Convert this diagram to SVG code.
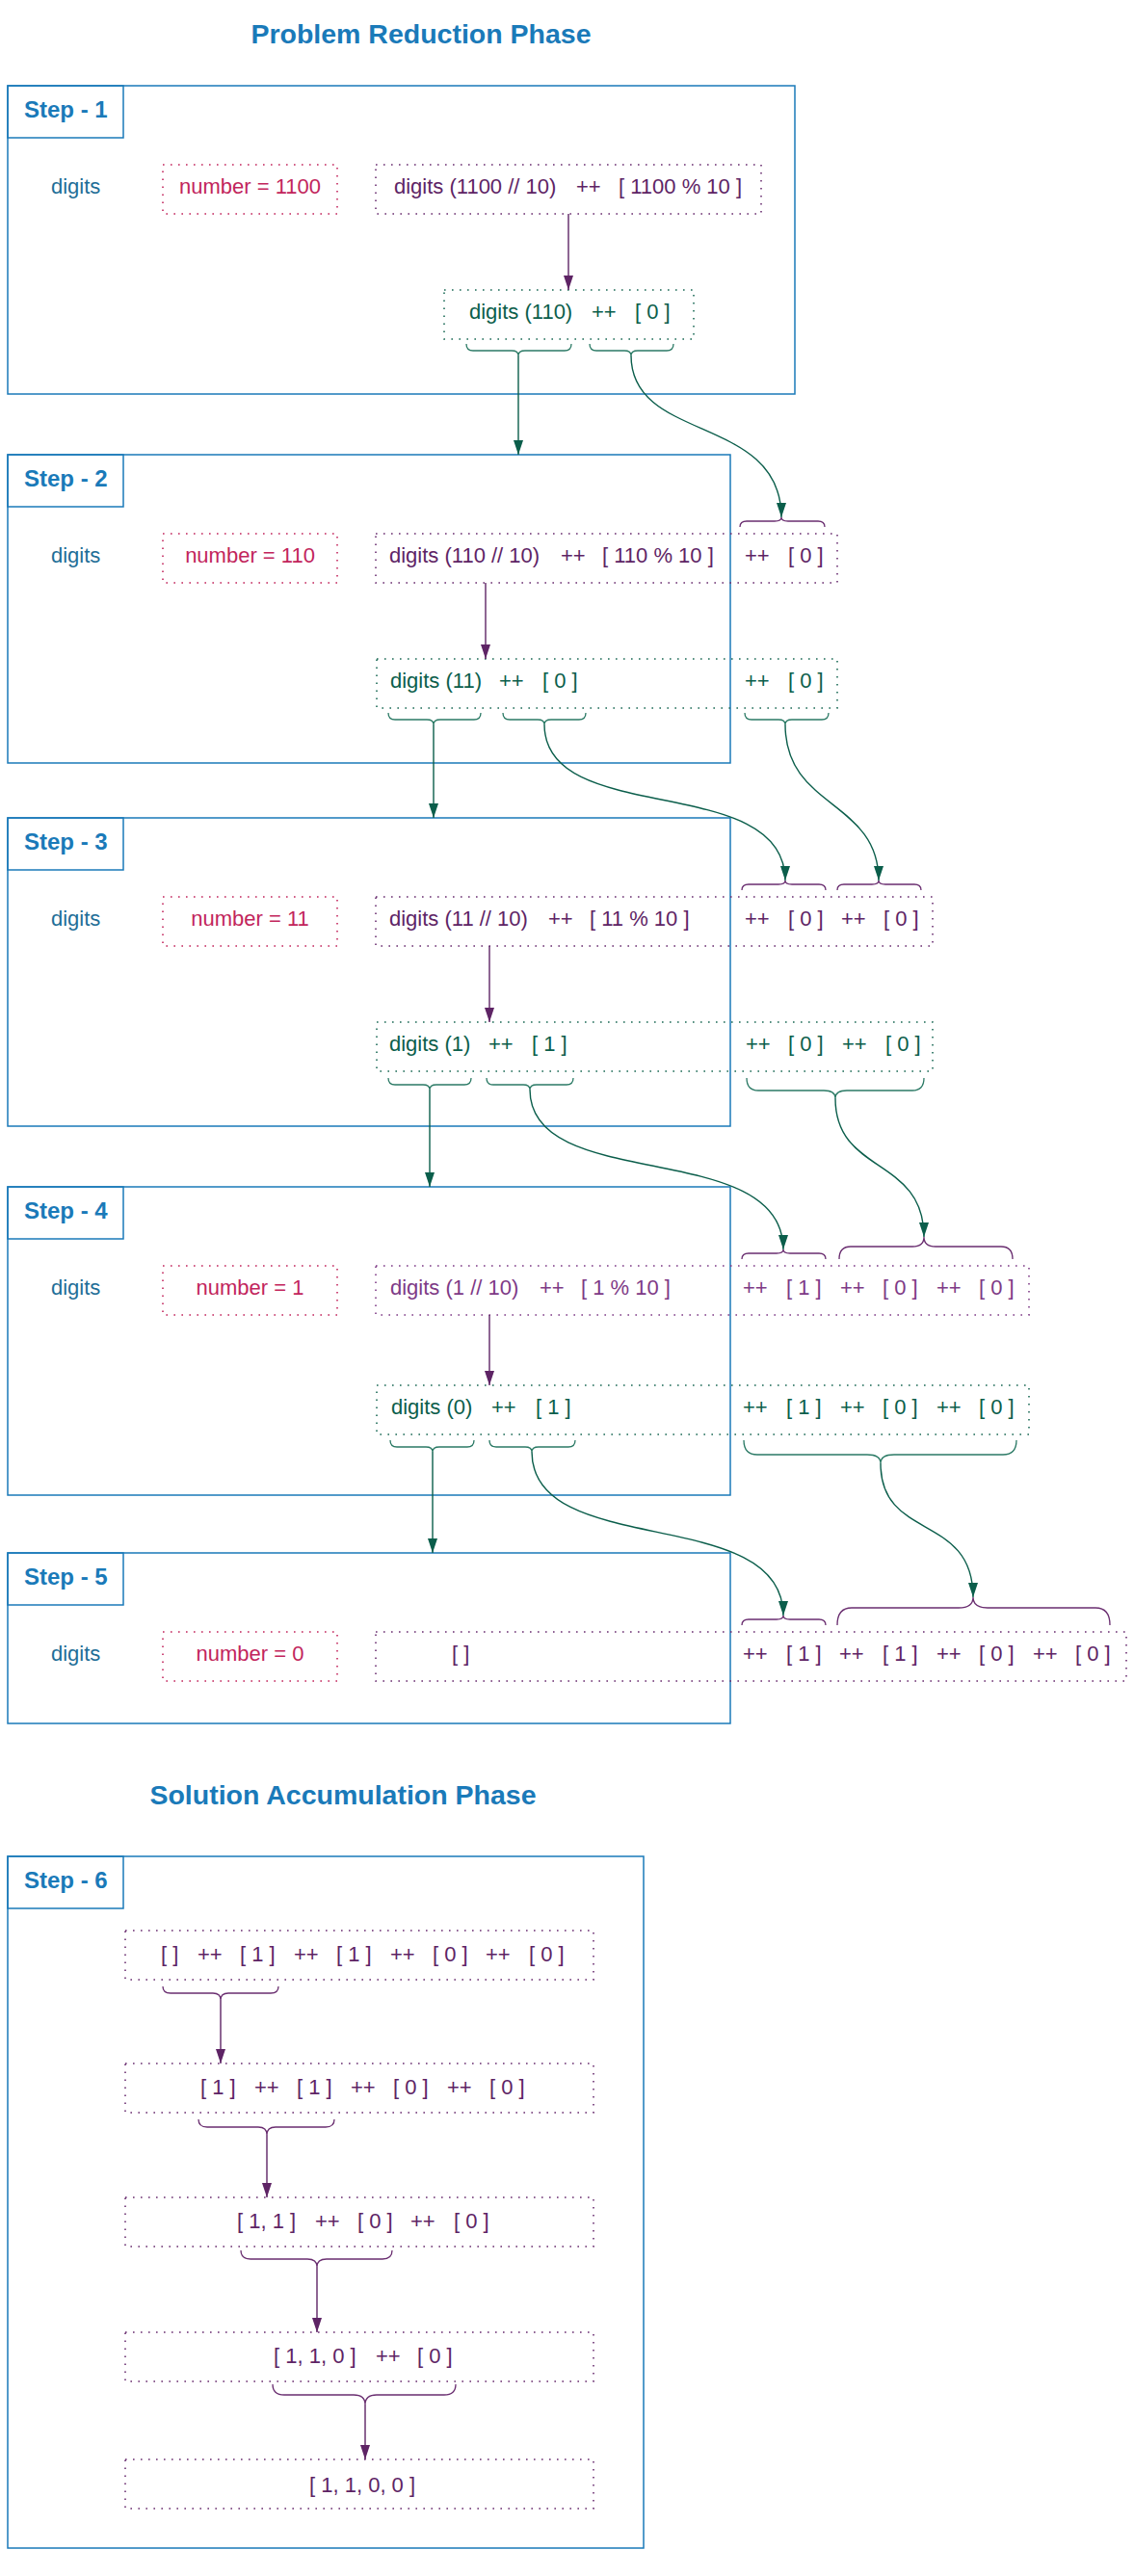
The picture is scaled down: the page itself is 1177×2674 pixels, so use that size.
<svg xmlns="http://www.w3.org/2000/svg" width="1177" height="2674" viewBox="0 0 1177 2674">
<style>
text{font-family:"Liberation Sans",Arial,sans-serif;font-size:22px}
.title{font-weight:bold;font-size:28.5px;fill:#1a7ab9;text-anchor:middle}
.lbl{font-weight:bold;font-size:24px;fill:#1a7ab9}
.step{fill:none;stroke:#1a7ab9;stroke-width:1.5}
.dg{fill:#1e6e97}
.pk{fill:#c2255c}
.pu{fill:#5e2465}
.lp{fill:#7e3a86}
.gr{fill:#0b5e4b}
.dot{fill:none;stroke-width:1.6;stroke-dasharray:1.6 6.4}
.dpk{stroke:#c2255c}
.dpu{stroke:#6a2e70}
.dlp{stroke:#7e3a86}
.dgr{stroke:#1b6a56}
.ag{fill:none;stroke:#0b5e4b;stroke-width:1.4;marker-end:url(#mg)}
.ap{fill:none;stroke:#5e2465;stroke-width:1.4;marker-end:url(#mp)}
.bg{fill:none;stroke:#2b7a65;stroke-width:1.3}
.bp{fill:none;stroke:#6a2e70;stroke-width:1.3}
.mid{text-anchor:middle}
</style>
<defs>
<marker id="mg" viewBox="0 0 15 10" markerWidth="15" markerHeight="10" refX="15" refY="5" orient="auto" markerUnits="userSpaceOnUse"><path d="M0,0 L15,5 L0,10 z" fill="#0b5e4b"/></marker>
<marker id="mp" viewBox="0 0 15 10" markerWidth="15" markerHeight="10" refX="15" refY="5" orient="auto" markerUnits="userSpaceOnUse"><path d="M0,0 L15,5 L0,10 z" fill="#5e2465"/></marker>
</defs>
<rect width="1177" height="2674" fill="#ffffff"/>

<text id="title-reduction" class="title" x="437" y="45">Problem Reduction Phase</text>

<!-- Step 1 -->
<g id="step1">
<rect class="step" x="8" y="89" width="817" height="320"/>
<g id="step1-label"><rect class="step" x="8" y="89" width="120" height="54"/><text class="lbl" x="25" y="122">Step - 1</text></g>
<g id="step1-fn"><text class="dg" x="53" y="201">digits</text></g>
<g id="step1-number"><rect class="dot dpk" x="169" y="171" width="181" height="51"/><text class="pk mid" x="259.5" y="201">number = 1100</text></g>
<g id="step1-expr"><rect class="dot dpu" x="390" y="171" width="400" height="51"/><text class="pu" y="201"><tspan x="409">digits (1100 // 10)</tspan><tspan x="598">++</tspan><tspan x="642">[ 1100 % 10 ]</tspan></text></g>
<g id="step1-result"><rect class="dot dgr" x="461" y="301" width="259" height="51"/><text class="gr" y="331"><tspan x="487">digits (110)</tspan><tspan x="614">++</tspan><tspan x="659">[ 0 ]</tspan></text></g>
</g>

<!-- Step 2 -->
<g id="step2">
<rect class="step" x="8" y="472" width="750" height="320"/>
<g id="step2-label"><rect class="step" x="8" y="472" width="120" height="54"/><text class="lbl" x="25" y="505">Step - 2</text></g>
<g id="step2-fn"><text class="dg" x="53" y="584">digits</text></g>
<g id="step2-number"><rect class="dot dpk" x="169" y="554" width="181" height="51"/><text class="pk mid" x="259.5" y="584">number = 110</text></g>
<g id="step2-expr"><rect class="dot dpu" x="390" y="554" width="479" height="51"/><text class="pu" y="584"><tspan x="404">digits (110 // 10)</tspan><tspan x="582">++</tspan><tspan x="625">[ 110 % 10 ]</tspan><tspan x="773">++</tspan><tspan x="818">[ 0 ]</tspan></text></g>
<g id="step2-result"><rect class="dot dgr" x="391" y="684" width="478" height="51"/><text class="gr" y="714"><tspan x="405">digits (11)</tspan><tspan x="518">++</tspan><tspan x="563">[ 0 ]</tspan><tspan x="773">++</tspan><tspan x="818">[ 0 ]</tspan></text></g>
</g>

<!-- Step 3 -->
<g id="step3">
<rect class="step" x="8" y="849" width="750" height="320"/>
<g id="step3-label"><rect class="step" x="8" y="849" width="120" height="54"/><text class="lbl" x="25" y="882">Step - 3</text></g>
<g id="step3-fn"><text class="dg" x="53" y="961">digits</text></g>
<g id="step3-number"><rect class="dot dpk" x="169" y="931" width="181" height="51"/><text class="pk mid" x="259.5" y="961">number = 11</text></g>
<g id="step3-expr"><rect class="dot dpu" x="390" y="931" width="578" height="51"/><text class="pu" y="961"><tspan x="404">digits (11 // 10)</tspan><tspan x="569">++</tspan><tspan x="612">[ 11 % 10 ]</tspan><tspan x="773">++</tspan><tspan x="818">[ 0 ]</tspan><tspan x="873">++</tspan><tspan x="917">[ 0 ]</tspan></text></g>
<g id="step3-result"><rect class="dot dgr" x="391" y="1061" width="577" height="51"/><text class="gr" y="1091"><tspan x="404">digits (1)</tspan><tspan x="507">++</tspan><tspan x="552">[ 1 ]</tspan><tspan x="774">++</tspan><tspan x="818">[ 0 ]</tspan><tspan x="874">++</tspan><tspan x="919">[ 0 ]</tspan></text></g>
</g>

<!-- Step 4 -->
<g id="step4">
<rect class="step" x="8" y="1232" width="750" height="320"/>
<g id="step4-label"><rect class="step" x="8" y="1232" width="120" height="54"/><text class="lbl" x="25" y="1265">Step - 4</text></g>
<g id="step4-fn"><text class="dg" x="53" y="1344">digits</text></g>
<g id="step4-number"><rect class="dot dpk" x="169" y="1314" width="181" height="51"/><text class="pk mid" x="259.5" y="1344">number = 1</text></g>
<g id="step4-expr"><rect class="dot dlp" x="390" y="1314" width="678" height="51"/><text class="lp" y="1344"><tspan x="405">digits (1 // 10)</tspan><tspan x="560">++</tspan><tspan x="603">[ 1 % 10 ]</tspan><tspan x="771">++</tspan><tspan x="816">[ 1 ]</tspan><tspan x="872">++</tspan><tspan x="916">[ 0 ]</tspan><tspan x="972">++</tspan><tspan x="1016">[ 0 ]</tspan></text></g>
<g id="step4-result"><rect class="dot dgr" x="391" y="1438" width="677" height="51"/><text class="gr" y="1468"><tspan x="406">digits (0)</tspan><tspan x="510">++</tspan><tspan x="556">[ 1 ]</tspan><tspan x="771">++</tspan><tspan x="816">[ 1 ]</tspan><tspan x="872">++</tspan><tspan x="916">[ 0 ]</tspan><tspan x="972">++</tspan><tspan x="1016">[ 0 ]</tspan></text></g>
</g>

<!-- Step 5 -->
<g id="step5">
<rect class="step" x="8" y="1612" width="750" height="177"/>
<g id="step5-label"><rect class="step" x="8" y="1612" width="120" height="54"/><text class="lbl" x="25" y="1645">Step - 5</text></g>
<g id="step5-fn"><text class="dg" x="53" y="1724">digits</text></g>
<g id="step5-number"><rect class="dot dpk" x="169" y="1694" width="181" height="51"/><text class="pk mid" x="259.5" y="1724">number = 0</text></g>
<g id="step5-expr"><rect class="dot dpu" x="390" y="1694" width="779" height="51"/><text class="pu" y="1724"><tspan x="469">[ ]</tspan><tspan x="771">++</tspan><tspan x="816">[ 1 ]</tspan><tspan x="871">++</tspan><tspan x="916">[ 1 ]</tspan><tspan x="972">++</tspan><tspan x="1016">[ 0 ]</tspan><tspan x="1072">++</tspan><tspan x="1116">[ 0 ]</tspan></text></g>
</g>

<text id="title-accumulation" class="title" x="356" y="1873">Solution Accumulation Phase</text>

<!-- Step 6 -->
<g id="step6">
<rect class="step" x="8" y="1927" width="660" height="718"/>
<g id="step6-label"><rect class="step" x="8" y="1927" width="120" height="54"/><text class="lbl" x="25" y="1960">Step - 6</text></g>
<g id="step6-row1"><rect class="dot dpu" x="130" y="2004" width="486" height="51"/><text class="pu" y="2036"><tspan x="167">[ ]</tspan><tspan x="205">++</tspan><tspan x="249">[ 1 ]</tspan><tspan x="305">++</tspan><tspan x="349">[ 1 ]</tspan><tspan x="405">++</tspan><tspan x="449">[ 0 ]</tspan><tspan x="504">++</tspan><tspan x="549">[ 0 ]</tspan></text></g>
<g id="step6-row2"><rect class="dot dpu" x="130" y="2142" width="486" height="51"/><text class="pu" y="2174"><tspan x="208">[ 1 ]</tspan><tspan x="264">++</tspan><tspan x="308">[ 1 ]</tspan><tspan x="364">++</tspan><tspan x="408">[ 0 ]</tspan><tspan x="464">++</tspan><tspan x="508">[ 0 ]</tspan></text></g>
<g id="step6-row3"><rect class="dot dpu" x="130" y="2281" width="486" height="51"/><text class="pu" y="2313"><tspan x="246">[ 1, 1 ]</tspan><tspan x="327">++</tspan><tspan x="371">[ 0 ]</tspan><tspan x="426">++</tspan><tspan x="471">[ 0 ]</tspan></text></g>
<g id="step6-row4"><rect class="dot dpu" x="130" y="2421" width="486" height="51"/><text class="pu" y="2453"><tspan x="284">[ 1, 1, 0 ]</tspan><tspan x="390">++</tspan><tspan x="433">[ 0 ]</tspan></text></g>
<g id="step6-row5"><rect class="dot dpu" x="130" y="2553" width="486" height="51"/><text class="pu" y="2587"><tspan x="321">[ 1, 1, 0, 0 ]</tspan></text></g>
</g>

<g id="braces">
<path class="bg" d="M484,357 Q484,364 491,364 L531,364 Q538,364 538,369 Q538,364 545,364 L586,364 Q593,364 593,357"/>
<path class="bg" d="M612,357 Q612,364 619,364 L648,364 Q655,364 655,369 Q655,364 662,364 L692,364 Q699,364 699,357"/>
<path class="bp" d="M768,547 Q768,541 775,541 L804,541 Q811,541 811,537 Q811,541 818,541 L849,541 Q856,541 856,547"/>
<path class="bg" d="M403,740 Q403,747 410,747 L443,747 Q450,747 450,752 Q450,747 457,747 L492,747 Q499,747 499,740"/>
<path class="bg" d="M522,740 Q522,747 529,747 L558,747 Q565,747 565,752 Q565,747 572,747 L601,747 Q608,747 608,740"/>
<path class="bg" d="M773,740 Q773,747 780,747 L808,747 Q815,747 815,752 Q815,747 822,747 L853,747 Q860,747 860,740"/>
<path class="bp" d="M770,924 Q770,918 777,918 L808,918 Q815,918 815,914 Q815,918 822,918 L850,918 Q857,918 857,924"/>
<path class="bp" d="M869,924 Q869,918 876,918 L905,918 Q912,918 912,914 Q912,918 919,918 L949,918 Q956,918 956,924"/>
<path class="bg" d="M403,1119 Q403,1126 410,1126 L439,1126 Q446,1126 446,1131 Q446,1126 453,1126 L482,1126 Q489,1126 489,1119"/>
<path class="bg" d="M505,1119 Q505,1126 512,1126 L543,1126 Q550,1126 550,1131 Q550,1126 557,1126 L588,1126 Q595,1126 595,1119"/>
<path class="bg" d="M775,1119 Q775,1132 787,1132 L855,1132 Q867,1132 867,1140 Q867,1132 879,1132 L947,1132 Q959,1132 959,1119"/>
<path class="bp" d="M770,1307 Q770,1301 777,1301 L806,1301 Q813,1301 813,1297 Q813,1301 820,1301 L850,1301 Q857,1301 857,1307"/>
<path class="bp" d="M871,1307 Q871,1294 883,1294 L947,1294 Q959,1294 959,1284 Q959,1294 971,1294 L1039,1294 Q1051,1294 1051,1307"/>
<path class="bg" d="M405,1495 Q405,1502 412,1502 L442,1502 Q449,1502 449,1507 Q449,1502 456,1502 L485,1502 Q492,1502 492,1495"/>
<path class="bg" d="M508,1495 Q508,1502 515,1502 L545,1502 Q552,1502 552,1507 Q552,1502 559,1502 L590,1502 Q597,1502 597,1495"/>
<path class="bg" d="M772,1495 Q772,1510 786,1510 L900,1510 Q914,1510 914,1519 Q914,1510 928,1510 L1041,1510 Q1055,1510 1055,1495"/>
<path class="bp" d="M770,1687 Q770,1681 777,1681 L806,1681 Q813,1681 813,1677 Q813,1681 820,1681 L850,1681 Q857,1681 857,1687"/>
<path class="bp" d="M869,1687 Q869,1669 884,1669 L995,1669 Q1010,1669 1010,1658 Q1010,1669 1025,1669 L1137,1669 Q1152,1669 1152,1687"/>
<path class="bp" d="M169,2062 Q169,2069 177,2069 L221,2069 Q229,2069 229,2076 Q229,2069 237,2069 L281,2069 Q289,2069 289,2062"/>
<path class="bp" d="M206,2200 Q206,2208 215,2208 L268,2208 Q277,2208 277,2216 Q277,2208 286,2208 L338,2208 Q347,2208 347,2200"/>
<path class="bp" d="M250,2336 Q250,2345 260,2345 L319,2345 Q329,2345 329,2353 Q329,2345 339,2345 L397,2345 Q407,2345 407,2336"/>
<path class="bp" d="M283,2475 Q283,2486 295,2486 L367,2486 Q379,2486 379,2496 Q379,2486 391,2486 L461,2486 Q473,2486 473,2475"/>
</g>

<g id="connectors">
<path class="ap" d="M590,222 L590,301"/>
<path class="ag" d="M538,369 L538,472"/>
<path class="ag" d="M655,369 C655,460 811,430 811,537"/>
<path class="ap" d="M504,605 L504,684"/>
<path class="ag" d="M450,752 L450,849"/>
<path class="ag" d="M565,752 C565,860 815,800 815,914"/>
<path class="ag" d="M815,752 C815,840 912,830 912,914"/>
<path class="ap" d="M508,982 L508,1061"/>
<path class="ag" d="M446,1131 L446,1232"/>
<path class="ag" d="M550,1131 C550,1240 813,1180 813,1297"/>
<path class="ag" d="M867,1140 C867,1220 959,1200 959,1284"/>
<path class="ap" d="M508,1365 L508,1438"/>
<path class="ag" d="M449,1507 L449,1612"/>
<path class="ag" d="M552,1507 C552,1620 813,1560 813,1677"/>
<path class="ag" d="M914,1519 C914,1600 1010,1570 1010,1658"/>
<path class="ap" d="M229,2076 L229,2142"/>
<path class="ap" d="M277,2216 L277,2281"/>
<path class="ap" d="M329,2353 L329,2421"/>
<path class="ap" d="M379,2496 L379,2553"/>
</g>
</svg>
